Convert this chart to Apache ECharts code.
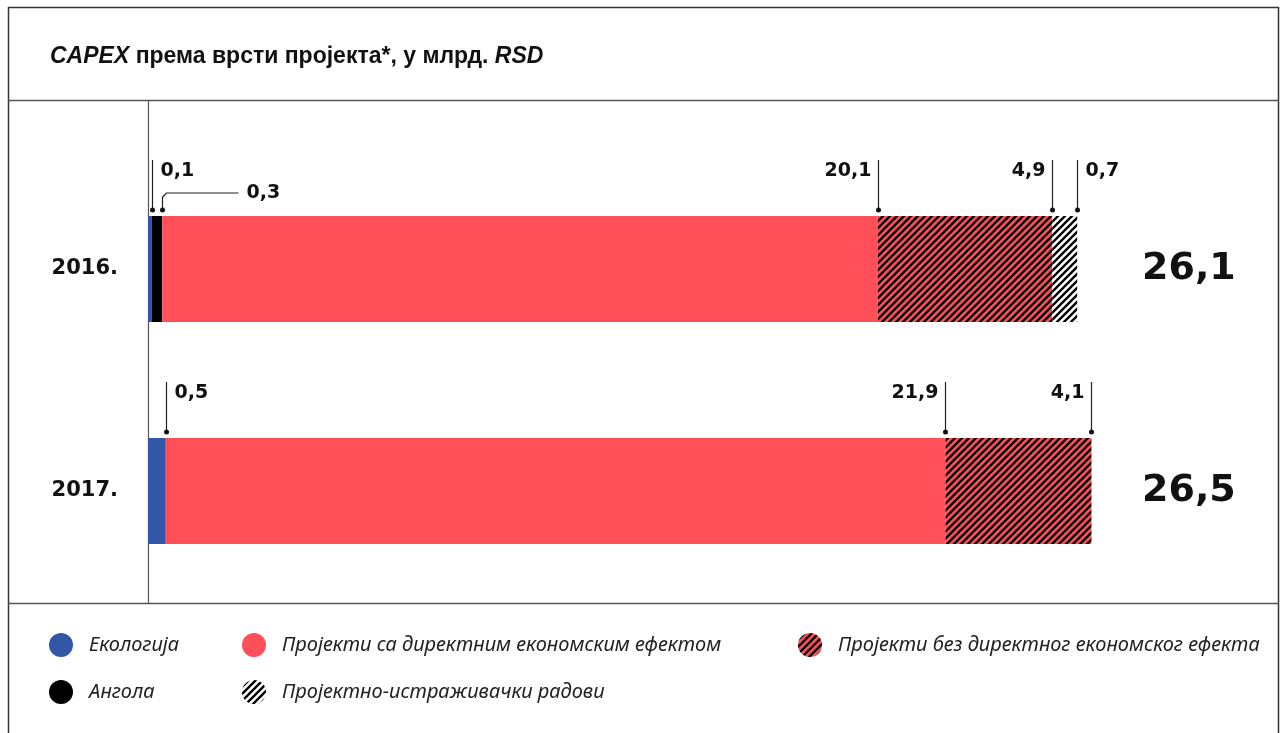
<!DOCTYPE html>
<html>
<head>
<meta charset="utf-8">
<script src="https://cdn.jsdelivr.net/npm/echarts@6/dist/echarts.min.js"></script>
<style>
    html, body { margin: 0; padding: 0; background: #fff; }
    #chart { width: 1281px; height: 733px; }
</style>
</head>
<body>
<div id="chart"></div>
<script>
// values in bn RSD, one entry per year
const categories = ['2016.', '2017.'];
const ecology = [0.1, 0.5];
const angola = [0.3, 0];
const directEffect = [20.1, 21.9];
const noDirectEffect = [4.9, 4.1];
const research = [0.7, 0];

const seriesNames = [
    'Екологија',
    'Ангола',
    'Пројекти са директним економским ефектом',
    'Пројекти без директног економског ефекта',
    'Пројектно-истраживачки радови'
];
const seriesValues = [ecology, angola, directEffect, noDirectEffect, research];

const BLUE = '#3356a6';
const RED = '#ff4f59';
const INK = '#111';
const BAR_W = 106;

const fmt = v => v.toFixed(1).replace('.', ',');

const totals = categories.map((c, i) =>
    seriesValues.reduce((s, arr) => s + arr[i], 0)
);

// diagonal hatch fill
function hatch(bg) {
    const s = 7;
    const c = document.createElement('canvas');
    c.width = s;
    c.height = s;
    const ctx = c.getContext('2d');
    ctx.fillStyle = bg;
    ctx.fillRect(0, 0, s, s);
    ctx.strokeStyle = '#000';
    ctx.lineWidth = 2.3;
    ctx.beginPath();
    ctx.moveTo(0, s);
    ctx.lineTo(s, 0);
    ctx.moveTo(-2, 2);
    ctx.lineTo(2, -2);
    ctx.moveTo(s - 2, s + 2);
    ctx.lineTo(s + 2, s - 2);
    ctx.stroke();
    return { image: c, repeat: 'repeat' };
}

const fills = [BLUE, '#000', RED, hatch(RED), hatch('#fff')];

// leader-line annotations at every segment end
const notes = [];
categories.forEach((c, row) => {
    let cum = 0;
    let prevSmall = false;
    seriesValues.forEach(arr => {
        const v = arr[row];
        if (!v) return;
        cum += v;
        const small = v < 1;
        const kind = small ? (prevSmall ? 'elbow' : 'right') : 'left';
        notes.push([cum, row, fmt(v), kind]);
        prevSmall = small;
    });
});

const chart = echarts.init(document.getElementById('chart'));

// one legend per slot: [series index, left, top]
const legendSlots = [
    [0, 44, 628],
    [2, 237, 628],
    [3, 793, 628],
    [1, 44, 675],
    [4, 237, 675]
];

const legends = legendSlots.map(([idx, left, top]) => ({
    left,
    top,
    data: [seriesNames[idx]],
    icon: 'circle',
    itemWidth: 24,
    itemHeight: 24,
    selectedMode: false,
    textStyle: {
        fontFamily: 'Noto Sans',
        fontStyle: 'italic',
        fontSize: 20,
        color: '#222',
        padding: [0, 0, 0, 11]
    }
}));

chart.setOption({
    animation: false,
    title: {
        text: '{i|CAPEX} према врсти пројекта*, у млрд. {i|RSD}',
        left: 45,
        top: 40,
        textStyle: {
            fontFamily: 'Liberation Sans',
            fontWeight: 'bold',
            fontSize: 23,
            color: INK,
            rich: {
                i: {
                    fontFamily: 'Liberation Sans',
                    fontWeight: 'bold',
                    fontStyle: 'italic',
                    fontSize: 23,
                    color: INK
                }
            }
        }
    },
    legend: legends,
    grid: {
        left: 148,
        right: 186,
        top: 158,
        bottom: 131,
        outerBoundsMode: 'none'
    },
    xAxis: {
        type: 'value',
        min: 0,
        max: 26.6,
        show: false
    },
    yAxis: [
        {
            type: 'category',
            data: categories,
            inverse: true,
            axisLine: { show: false },
            axisTick: { show: false },
            axisLabel: {
                margin: 30,
                fontFamily: 'DejaVu Sans',
                fontWeight: 'bold',
                fontSize: 21,
                color: INK
            }
        },
        {
            type: 'category',
            position: 'right',
            data: totals.map(fmt),
            inverse: true,
            axisLine: { show: false },
            axisTick: { show: false },
            axisLabel: {
                margin: 47,
                fontFamily: 'DejaVu Sans',
                fontWeight: 'bold',
                fontSize: 38,
                color: INK
            }
        }
    ],
    series: seriesNames.map((name, i) => ({
        name,
        type: 'bar',
        stack: 'total',
        barWidth: BAR_W,
        data: seriesValues[i],
        itemStyle: { color: fills[i] },
        emphasis: { disabled: true }
    })).concat([{
        type: 'custom',
        clip: false,
        silent: true,
        data: notes,
        renderItem(params, api) {
            const p = api.coord([api.value(0), api.value(1)]);
            const x = Math.round(p[0]) + 0.5;
            const top = p[1] - BAR_W / 2;
            const dotY = top - 6;
            const text = api.value(2);
            const kind = api.value(3);
            const font = 'bold 19px "DejaVu Sans"';
            const children = [];
            if (kind === 'elbow') {
                const y1 = top - 23;
                children.push({
                    type: 'polyline',
                    shape: { points: [[x, dotY], [x, y1 + 4], [x + 4, y1], [x + 76, y1]] },
                    style: { stroke: '#222', lineWidth: 1.2, fill: null }
                });
                children.push({
                    type: 'text',
                    style: { text, x: x + 84, y: y1, align: 'left', verticalAlign: 'middle', font, fill: INK }
                });
            } else {
                children.push({
                    type: 'line',
                    shape: { x1: x, y1: top - 56, x2: x, y2: dotY },
                    style: { stroke: '#222', lineWidth: 1.2 }
                });
                children.push({
                    type: 'text',
                    style: {
                        text,
                        x: kind === 'left' ? x - 7 : x + 8,
                        y: top - 45,
                        align: kind === 'left' ? 'right' : 'left',
                        verticalAlign: 'middle',
                        font,
                        fill: INK
                    }
                });
            }
            children.push({
                type: 'circle',
                shape: { cx: x, cy: dotY, r: 2.5 },
                style: { fill: '#111' }
            });
            return { type: 'group', children };
        }
    }]),
    graphic: [
        {
            type: 'rect',
            silent: true,
            shape: { x: 8.5, y: 7.5, width: 1270, height: 760 },
            style: { fill: null, stroke: '#333', lineWidth: 1.5 }
        },
        {
            type: 'line',
            silent: true,
            shape: { x1: 8, y1: 100.5, x2: 1279, y2: 100.5 },
            style: { stroke: '#555', lineWidth: 1.5 }
        },
        {
            type: 'line',
            silent: true,
            shape: { x1: 148.5, y1: 100, x2: 148.5, y2: 603 },
            style: { stroke: '#555', lineWidth: 1.2 }
        },
        {
            type: 'line',
            silent: true,
            shape: { x1: 8, y1: 603.5, x2: 1279, y2: 603.5 },
            style: { stroke: '#555', lineWidth: 1.5 }
        }
    ]
});

window.addEventListener('resize', () => chart.resize());
</script>
</body>
</html>
